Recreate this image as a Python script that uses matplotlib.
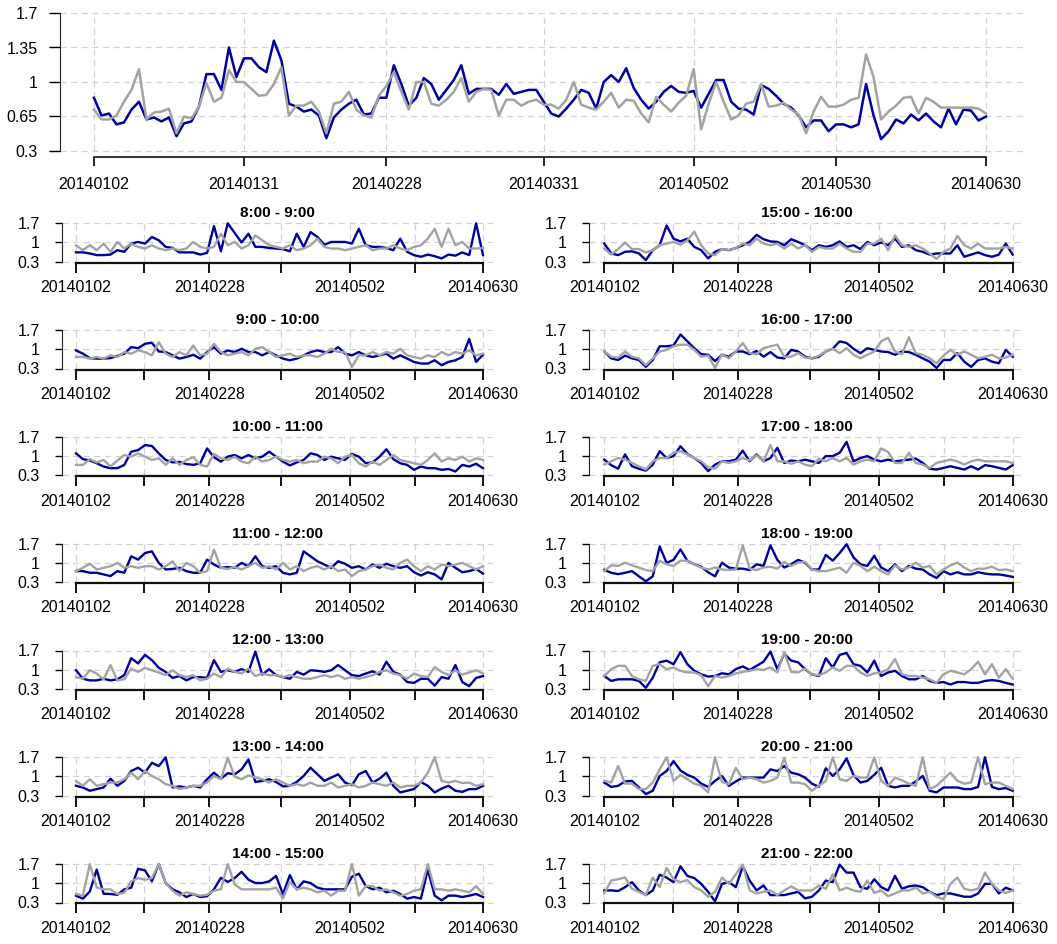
import numpy as np
import matplotlib
matplotlib.use("Agg")
import matplotlib.pyplot as plt

plt.rcParams['font.family'] = ['Liberation Sans', 'DejaVu Sans']

# ---- data -------------------------------------------------------------
tick_pos = [0, 20, 39, 60, 80, 99, 119]
tick_lab = ['20140102', '20140131', '20140228', '20140331', '20140502', '20140530', '20140630']
small_lab = ['20140102', '', '20140228', '', '20140502', '', '20140630']

# daily ratio, whole day
day_blue = [0.84, 0.66, 0.68, 0.57, 0.59, 0.72, 0.80, 0.62, 0.64, 0.60,
            0.64, 0.45, 0.58, 0.60, 0.75, 1.08, 1.08, 0.92, 1.35, 1.05,
            1.24, 1.24, 1.15, 1.10, 1.42, 1.22, 0.78, 0.75, 0.70, 0.72,
            0.66, 0.43, 0.64, 0.72, 0.78, 0.82, 0.67, 0.68, 0.84, 0.84,
            1.17, 0.98, 0.76, 0.84, 1.04, 0.98, 0.82, 0.92, 1.02, 1.17,
            0.88, 0.93, 0.93, 0.93, 0.87, 0.98, 0.88, 0.90, 0.92, 0.92,
            0.80, 0.68, 0.65, 0.73, 0.82, 0.92, 0.89, 0.73, 1.00, 1.07,
            1.00, 1.14, 0.94, 0.82, 0.73, 0.80, 0.90, 0.96, 0.90, 0.89,
            0.91, 0.74, 0.88, 1.02, 1.02, 0.80, 0.73, 0.72, 0.67, 0.97,
            0.93, 0.86, 0.78, 0.74, 0.66, 0.54, 0.61, 0.61, 0.50, 0.57,
            0.57, 0.54, 0.57, 0.98, 0.66, 0.42, 0.50, 0.62, 0.58, 0.67,
            0.61, 0.68, 0.60, 0.54, 0.73, 0.57, 0.72, 0.71, 0.61, 0.65]
day_gray = [0.72, 0.62, 0.62, 0.66, 0.80, 0.92, 1.13, 0.62, 0.69, 0.70,
            0.73, 0.48, 0.65, 0.63, 0.75, 0.99, 0.80, 0.84, 1.12, 1.00,
            1.00, 0.93, 0.86, 0.87, 0.98, 1.15, 0.66, 0.76, 0.76, 0.80,
            0.70, 0.48, 0.78, 0.80, 0.90, 0.72, 0.66, 0.64, 0.86, 0.96,
            1.10, 0.90, 0.72, 1.00, 1.00, 0.78, 0.76, 0.82, 0.90, 1.04,
            0.80, 0.90, 0.93, 0.92, 0.66, 0.82, 0.82, 0.76, 0.80, 0.82,
            0.77, 0.77, 0.73, 0.82, 1.00, 0.77, 0.74, 0.72, 0.80, 0.89,
            0.74, 0.82, 0.81, 0.68, 0.59, 0.85, 0.77, 0.70, 0.79, 0.86,
            1.13, 0.52, 0.78, 1.00, 0.80, 0.62, 0.66, 0.78, 0.80, 0.98,
            0.75, 0.76, 0.79, 0.72, 0.67, 0.48, 0.70, 0.85, 0.75, 0.75,
            0.77, 0.82, 0.84, 1.28, 1.05, 0.62, 0.70, 0.76, 0.84, 0.85,
            0.68, 0.84, 0.80, 0.74, 0.74, 0.74, 0.74, 0.74, 0.73, 0.68]

# hourly ratio (every second trading day)
b08 = [0.64, 0.64, 0.6, 0.54, 0.54, 0.56, 0.72, 0.66, 0.96, 1.02, 0.96, 1.2, 1.08, 0.84, 0.8,
       0.64, 0.64, 0.64, 0.56, 0.62, 1.6, 0.68, 1.7, 1.35, 1.0, 1.32, 0.84, 0.84, 0.8, 0.78,
       0.76, 0.68, 1.32, 0.84, 1.38, 1.2, 0.92, 1.02, 1.02, 1.02, 0.96, 1.5, 0.9, 0.84, 0.84,
       0.8, 0.72, 1.14, 0.66, 0.54, 0.48, 0.56, 0.5, 0.42, 0.56, 0.52, 0.64, 0.54, 1.7, 0.54]
g08 = [0.9, 0.72, 0.9, 0.72, 0.96, 0.66, 1.02, 0.78, 0.96, 0.84, 0.78, 0.9, 0.78, 0.72, 0.78,
       0.72, 0.78, 1.02, 0.84, 0.78, 0.84, 1.32, 0.9, 1.02, 0.78, 0.9, 1.26, 1.08, 0.9, 0.84,
       0.78, 0.9, 0.72, 0.78, 0.9, 1.14, 0.84, 0.78, 0.78, 0.72, 0.78, 0.84, 0.9, 0.72, 0.78,
       0.78, 0.9, 0.78, 0.72, 0.84, 0.9, 1.14, 1.5, 0.84, 1.5, 0.9, 1.02, 0.78, 0.78, 0.8]

b09 = [0.96, 0.84, 0.68, 0.66, 0.66, 0.68, 0.76, 0.84, 1.08, 1.04, 1.2, 1.24, 0.92, 0.9, 0.78,
       0.66, 0.72, 0.8, 0.66, 0.9, 1.08, 0.84, 0.96, 0.9, 1.02, 0.9, 0.9, 0.78, 0.9, 0.78,
       0.66, 0.6, 0.66, 0.78, 0.9, 0.96, 0.9, 0.9, 1.08, 0.84, 0.78, 0.9, 0.78, 0.72, 0.78,
       0.84, 0.66, 0.78, 0.66, 0.54, 0.48, 0.48, 0.6, 0.42, 0.54, 0.6, 0.72, 1.38, 0.54, 0.8]
g09 = [0.72, 0.72, 0.66, 0.72, 0.66, 0.78, 0.72, 0.9, 0.84, 0.96, 0.9, 0.78, 1.26, 0.84, 0.72,
       0.9, 0.78, 1.14, 0.78, 0.84, 1.2, 0.9, 0.78, 0.84, 0.9, 0.78, 1.02, 1.08, 0.9, 0.72,
       0.78, 0.84, 0.72, 0.78, 0.78, 0.72, 0.84, 1.02, 0.9, 0.9, 0.36, 0.78, 0.78, 0.9, 0.78,
       0.9, 0.84, 1.02, 0.78, 0.72, 0.66, 0.78, 0.72, 0.9, 0.78, 0.9, 0.84, 0.96, 0.78, 0.84]

b10 = [1.1, 0.89, 0.84, 0.74, 0.62, 0.56, 0.56, 0.68, 1.16, 1.22, 1.4, 1.37, 1.1, 0.86, 0.77,
       0.79, 0.71, 0.68, 0.74, 1.28, 0.96, 0.8, 0.98, 1.04, 0.92, 1.04, 0.92, 0.98, 1.16, 0.98,
       0.8, 0.66, 0.77, 0.86, 1.1, 1.04, 0.86, 0.98, 0.92, 0.86, 1.08, 0.98, 0.74, 0.77, 0.98,
       1.25, 0.89, 0.74, 0.68, 0.5, 0.62, 0.56, 0.56, 0.5, 0.53, 0.44, 0.68, 0.62, 0.72, 0.56]
g10 = [0.68, 0.68, 0.89, 0.77, 0.86, 0.62, 0.84, 1.04, 0.98, 1.1, 0.98, 0.86, 0.92, 0.68, 0.92,
       0.68, 0.86, 0.96, 0.68, 0.62, 1.08, 0.92, 0.86, 0.98, 0.8, 0.74, 0.98, 0.8, 0.86, 0.98,
       0.86, 0.8, 0.86, 0.74, 0.8, 0.8, 0.98, 0.92, 0.74, 0.98, 1.04, 0.74, 0.62, 0.8, 0.68,
       0.86, 1.04, 0.86, 0.8, 0.74, 0.68, 0.86, 1.1, 0.8, 0.92, 0.86, 0.98, 0.8, 0.92, 0.86]

b11 = [0.7, 0.7, 0.64, 0.64, 0.58, 0.52, 0.7, 0.64, 1.24, 1.12, 1.36, 1.42, 1.0, 0.76, 0.78,
       0.82, 0.7, 0.64, 0.64, 1.12, 0.94, 0.82, 0.85, 0.82, 1.0, 0.88, 1.24, 0.88, 0.82, 0.88,
       0.64, 0.58, 0.64, 1.42, 1.24, 1.06, 0.94, 0.82, 1.06, 0.97, 0.82, 0.88, 0.76, 0.94, 0.82,
       0.97, 0.88, 0.82, 0.88, 0.66, 0.54, 0.66, 0.58, 0.4, 1.0, 0.82, 0.66, 0.7, 0.78, 0.61]
g11 = [0.7, 0.82, 0.97, 0.76, 0.82, 0.88, 1.0, 0.82, 0.88, 0.82, 0.88, 0.88, 0.76, 0.88, 1.06,
       0.7, 1.0, 0.88, 0.64, 0.7, 1.48, 0.82, 0.78, 0.85, 0.76, 0.88, 1.0, 0.82, 0.88, 0.76,
       1.0, 0.76, 0.88, 0.7, 0.82, 0.88, 0.76, 0.88, 0.7, 0.76, 0.52, 0.7, 0.76, 0.88, 0.94,
       0.82, 0.76, 1.0, 1.12, 0.88, 0.7, 0.88, 0.76, 0.94, 0.88, 0.94, 1.0, 0.88, 0.76, 0.88]

b12 = [0.98, 0.67, 0.61, 0.61, 0.67, 0.61, 0.65, 0.8, 1.42, 1.23, 1.54, 1.35, 1.07, 0.92, 0.7,
       0.77, 0.61, 0.73, 0.73, 0.7, 1.35, 0.92, 0.98, 0.92, 1.02, 0.92, 1.66, 0.82, 1.02, 0.8,
       0.73, 0.67, 0.92, 0.82, 0.98, 0.96, 0.92, 0.98, 1.17, 0.98, 0.8, 0.77, 0.86, 0.94, 0.82,
       1.29, 0.92, 0.82, 0.55, 0.52, 0.67, 0.67, 0.42, 0.73, 0.67, 1.17, 0.55, 0.4, 0.7, 0.77]
g12 = [0.73, 0.67, 0.98, 0.86, 0.65, 1.17, 0.61, 0.65, 1.04, 0.92, 1.07, 0.98, 0.9, 0.8, 0.98,
       0.8, 0.73, 0.8, 0.61, 0.67, 0.86, 0.73, 1.04, 0.92, 0.86, 1.04, 0.77, 0.86, 0.8, 0.8,
       0.73, 0.8, 0.73, 0.67, 0.67, 0.73, 0.8, 0.73, 0.8, 0.67, 0.73, 0.67, 0.73, 0.8, 0.92,
       0.98, 0.86, 0.8, 0.67, 0.86, 0.77, 0.73, 1.1, 0.92, 0.8, 0.98, 0.82, 0.9, 0.98, 0.86]

b13 = [0.66, 0.6, 0.48, 0.54, 0.6, 0.92, 0.66, 0.84, 1.2, 1.32, 1.14, 1.5, 1.38, 1.7, 0.6,
       0.64, 0.6, 0.66, 0.6, 0.9, 1.14, 0.92, 1.12, 1.08, 1.26, 1.62, 0.8, 0.84, 0.9, 0.8,
       0.64, 0.66, 0.8, 1.02, 1.32, 1.08, 0.84, 0.96, 1.08, 0.78, 0.68, 1.08, 1.2, 0.78, 0.92,
       1.14, 0.66, 0.42, 0.48, 0.54, 0.8, 0.66, 0.42, 0.56, 0.66, 0.48, 0.44, 0.54, 0.54, 0.66]
g13 = [0.84, 0.66, 0.9, 0.66, 0.72, 0.78, 0.78, 0.9, 1.14, 0.9, 1.2, 1.02, 0.9, 0.72, 0.66,
       0.54, 0.6, 0.66, 0.66, 0.78, 1.02, 0.9, 1.68, 1.0, 0.9, 1.04, 0.96, 0.9, 0.78, 0.9,
       0.78, 0.66, 0.72, 0.66, 0.78, 0.66, 0.66, 0.78, 0.6, 0.66, 0.72, 0.6, 0.66, 0.78, 0.72,
       0.66, 0.78, 0.6, 0.66, 0.66, 0.78, 1.14, 1.7, 0.84, 0.78, 0.84, 0.76, 0.78, 0.66, 0.72]

b14 = [0.55, 0.44, 0.7, 1.5, 0.62, 0.61, 0.58, 0.78, 0.84, 1.53, 1.47, 1.07, 1.7, 1.01, 0.78,
       0.67, 0.5, 0.61, 0.5, 0.53, 0.78, 1.2, 1.05, 1.19, 1.42, 1.13, 1.01, 1.01, 1.07, 1.27,
       0.6, 1.3, 0.78, 1.07, 1.01, 0.84, 0.78, 0.78, 0.78, 0.78, 1.24, 1.35, 0.9, 0.78, 0.84,
       0.67, 0.73, 0.61, 0.44, 0.5, 0.44, 1.5, 0.55, 0.38, 0.55, 0.55, 0.5, 0.55, 0.61, 0.5]
g14 = [0.61, 0.55, 1.7, 0.85, 0.78, 0.78, 0.61, 0.65, 1.07, 1.19, 1.13, 1.19, 1.7, 1.01, 0.73,
       0.55, 0.67, 0.61, 0.55, 0.58, 0.73, 0.78, 1.7, 0.96, 0.78, 0.78, 0.78, 0.78, 0.78, 0.84,
       0.45, 1.05, 0.78, 0.84, 0.78, 0.67, 0.73, 0.55, 0.73, 0.73, 1.7, 0.55, 0.9, 0.9, 0.73,
       0.78, 0.67, 0.55, 0.61, 0.73, 0.78, 1.7, 0.78, 0.78, 0.73, 0.78, 0.73, 0.67, 0.9, 0.61]

b15 = [0.96, 0.6, 0.54, 0.66, 0.68, 0.6, 0.36, 0.72, 0.9, 1.62, 1.14, 1.04, 1.14, 0.84, 0.72,
       0.42, 0.66, 0.76, 0.72, 0.8, 0.9, 1.02, 1.28, 1.12, 1.04, 1.02, 0.9, 1.12, 1.02, 0.9,
       0.72, 0.9, 0.84, 0.9, 1.04, 0.84, 0.9, 0.76, 1.02, 0.9, 1.0, 0.9, 1.14, 0.84, 0.9,
       0.72, 0.66, 0.56, 0.6, 0.6, 0.6, 0.9, 0.48, 0.56, 0.64, 0.54, 0.48, 0.56, 0.96, 0.56]
g15 = [0.78, 0.56, 0.76, 1.0, 0.76, 0.76, 0.64, 0.72, 0.9, 0.96, 1.02, 0.92, 1.08, 1.4, 0.9,
       0.6, 0.54, 0.76, 0.72, 0.8, 0.96, 0.9, 1.14, 0.96, 0.9, 0.96, 0.78, 0.96, 0.78, 0.9,
       0.66, 0.84, 0.78, 0.78, 0.96, 0.78, 0.66, 0.66, 0.96, 0.96, 1.14, 0.72, 1.26, 0.9, 0.84,
       0.9, 0.78, 0.6, 0.4, 0.66, 0.78, 1.24, 0.9, 0.78, 0.96, 0.78, 0.78, 0.78, 0.84, 0.78]

b16 = [0.92, 0.67, 0.61, 0.77, 0.67, 0.61, 0.36, 0.61, 1.11, 1.11, 1.14, 1.54, 1.29, 1.04, 0.82,
       0.8, 0.57, 0.8, 0.73, 0.92, 0.92, 0.82, 0.94, 0.73, 0.9, 0.7, 0.67, 0.98, 0.92, 0.73,
       0.67, 0.73, 0.92, 1.02, 1.29, 1.23, 1.02, 0.86, 1.04, 0.98, 0.92, 0.9, 0.8, 0.92, 0.9,
       0.8, 0.67, 0.55, 0.32, 0.61, 0.61, 0.86, 0.55, 0.36, 0.61, 0.67, 0.55, 0.49, 0.98, 0.73]
g16 = [0.92, 0.73, 0.7, 0.92, 0.73, 0.67, 0.42, 0.67, 0.92, 0.98, 1.11, 1.17, 1.17, 0.98, 0.73,
       0.77, 0.32, 0.82, 0.67, 0.92, 1.23, 0.86, 0.82, 1.04, 1.11, 1.17, 0.73, 0.73, 0.86, 0.7,
       0.67, 0.77, 0.92, 1.02, 0.86, 1.04, 0.8, 0.67, 0.8, 0.92, 1.29, 1.42, 0.92, 0.82, 1.44,
       0.86, 0.8, 0.67, 0.49, 0.77, 0.98, 0.8, 0.92, 0.8, 0.67, 0.73, 0.8, 0.67, 0.7, 0.8]

b17 = [0.87, 0.67, 0.54, 1.06, 0.63, 0.54, 0.47, 0.69, 1.18, 0.93, 1.0, 1.36, 1.08, 0.93, 0.75,
       0.45, 0.69, 0.81, 0.81, 0.87, 1.2, 0.81, 1.06, 0.81, 0.93, 1.3, 0.75, 0.84, 0.81, 0.87,
       0.81, 0.75, 1.0, 1.0, 1.12, 1.52, 0.81, 0.93, 1.0, 0.87, 0.81, 0.87, 0.81, 0.84, 0.87,
       0.91, 0.75, 0.54, 0.51, 0.57, 0.63, 0.57, 0.51, 0.63, 0.51, 0.67, 0.63, 0.57, 0.51, 0.67]
g17 = [0.69, 0.81, 0.93, 0.87, 0.75, 0.63, 0.51, 0.81, 0.93, 0.93, 1.12, 1.18, 1.06, 0.93, 0.81,
       0.59, 0.54, 0.81, 0.75, 0.81, 0.93, 0.84, 1.03, 0.81, 1.4, 0.81, 0.81, 0.72, 0.81, 0.69,
       0.63, 0.91, 0.81, 0.93, 0.81, 0.93, 0.69, 0.81, 0.87, 0.81, 1.28, 1.15, 0.75, 0.75, 1.12,
       0.75, 0.69, 0.57, 0.75, 0.81, 0.87, 0.81, 0.69, 0.81, 0.87, 0.81, 0.81, 0.81, 0.81, 0.75]

b18 = [0.74, 0.64, 0.59, 0.64, 0.7, 0.51, 0.33, 0.51, 1.6, 1.0, 1.11, 1.49, 1.08, 0.95, 0.86,
       0.66, 0.51, 1.01, 0.83, 0.79, 0.79, 0.74, 0.95, 0.89, 1.64, 1.11, 0.83, 0.95, 1.11, 1.01,
       0.76, 0.76, 1.29, 1.08, 1.36, 1.68, 1.2, 0.95, 0.89, 1.26, 0.83, 0.7, 0.95, 0.7, 0.89,
       0.79, 0.76, 0.58, 0.45, 0.7, 0.58, 0.66, 0.58, 0.58, 0.66, 0.61, 0.58, 0.58, 0.54, 0.49]
g18 = [0.7, 0.91, 0.89, 1.01, 0.91, 0.83, 0.74, 0.7, 1.08, 0.95, 0.89, 1.08, 1.08, 0.95, 0.83,
       0.76, 0.83, 0.76, 0.74, 0.76, 1.64, 0.79, 0.74, 0.83, 0.86, 0.79, 1.04, 0.89, 1.01, 1.04,
       0.76, 0.7, 0.7, 0.76, 0.83, 0.64, 1.01, 0.89, 0.7, 0.86, 0.7, 0.58, 0.91, 0.76, 0.83,
       1.01, 0.83, 0.89, 0.58, 0.76, 0.91, 1.01, 0.83, 0.7, 0.79, 0.79, 0.86, 0.74, 0.76, 0.7]

b19 = [0.77, 0.59, 0.65, 0.65, 0.65, 0.59, 0.34, 0.71, 1.27, 1.33, 1.2, 1.64, 1.2, 0.96, 0.83,
       0.75, 0.77, 0.87, 0.83, 1.02, 1.12, 0.99, 1.14, 1.29, 1.66, 1.02, 1.58, 1.33, 1.27, 1.02,
       0.83, 0.77, 1.42, 1.08, 1.54, 1.61, 1.2, 1.14, 0.9, 1.33, 0.77, 0.9, 0.96, 0.77, 0.65,
       0.65, 0.77, 0.59, 0.52, 0.55, 0.46, 0.55, 0.55, 0.52, 0.52, 0.59, 0.62, 0.59, 0.52, 0.46]
g19 = [0.77, 1.02, 1.14, 1.14, 0.77, 0.65, 0.59, 1.14, 1.2, 1.02, 1.08, 0.96, 0.9, 0.9, 0.8,
       0.4, 0.77, 0.71, 0.77, 0.87, 0.92, 0.96, 1.02, 0.99, 1.08, 0.9, 1.64, 0.92, 0.9, 1.04,
       0.83, 0.8, 0.9, 1.08, 0.96, 1.14, 1.14, 0.9, 0.77, 0.87, 0.9, 1.02, 1.39, 0.83, 0.77,
       0.77, 0.71, 0.65, 0.52, 0.83, 0.96, 0.9, 0.83, 1.02, 1.29, 0.83, 1.2, 0.71, 1.02, 0.67]

b20 = [0.78, 0.62, 0.66, 0.82, 0.84, 0.6, 0.36, 0.48, 1.02, 1.2, 1.56, 1.22, 1.06, 0.96, 0.74,
       0.62, 0.84, 1.02, 0.66, 0.82, 0.96, 0.96, 0.96, 0.96, 1.26, 1.2, 1.38, 1.14, 1.08, 0.96,
       0.74, 0.62, 1.3, 1.02, 1.26, 1.66, 1.05, 0.78, 0.84, 1.06, 1.32, 0.66, 0.6, 0.66, 0.66,
       0.82, 1.02, 0.48, 0.42, 0.6, 0.6, 0.6, 0.54, 0.54, 0.62, 1.7, 0.62, 0.54, 0.58, 0.48]
g20 = [0.84, 0.78, 1.38, 0.74, 0.74, 0.54, 0.54, 0.78, 1.26, 1.7, 0.84, 1.06, 0.9, 0.74, 0.66,
       0.42, 1.7, 0.8, 0.72, 1.32, 0.9, 0.96, 0.9, 0.78, 0.84, 0.96, 1.68, 0.78, 0.78, 0.72,
       0.48, 0.66, 0.84, 1.7, 0.9, 0.84, 1.02, 0.96, 0.96, 1.7, 0.84, 0.66, 0.96, 0.86, 0.74,
       0.66, 1.7, 0.54, 0.66, 0.9, 1.14, 0.84, 0.74, 0.78, 1.7, 0.72, 0.78, 0.78, 0.66, 0.54]

b21 = [0.74, 0.74, 0.72, 0.86, 1.04, 0.74, 0.57, 0.74, 1.31, 1.21, 1.04, 1.62, 1.27, 1.19, 0.98,
       0.69, 0.34, 0.98, 1.04, 0.86, 1.62, 1.1, 0.74, 0.92, 0.57, 0.57, 0.57, 0.63, 0.69, 0.45,
       0.51, 0.74, 1.1, 1.04, 1.68, 1.39, 1.39, 0.86, 0.8, 1.15, 0.86, 0.74, 1.27, 0.8, 0.89,
       0.92, 0.86, 0.69, 0.57, 0.63, 0.63, 0.57, 0.51, 0.51, 0.63, 0.98, 0.98, 0.63, 0.84, 0.74]
g21 = [0.63, 1.1, 1.15, 1.21, 0.8, 0.69, 0.57, 1.21, 0.86, 1.56, 1.15, 1.04, 1.12, 0.86, 0.74,
       0.51, 0.69, 1.21, 0.98, 1.33, 1.68, 0.74, 0.63, 0.69, 0.74, 0.57, 0.74, 0.89, 0.74, 0.74,
       0.74, 0.92, 0.8, 1.33, 0.74, 0.84, 0.74, 0.69, 1.1, 0.65, 0.74, 0.53, 0.63, 0.74, 0.74,
       0.84, 0.63, 0.69, 0.51, 0.42, 0.98, 1.21, 0.8, 0.74, 0.8, 1.39, 0.98, 0.74, 0.65, 0.74]

left_titles = ['8:00 - 9:00', '9:00 - 10:00', '10:00 - 11:00', '11:00 - 12:00',
               '12:00 - 13:00', '13:00 - 14:00', '14:00 - 15:00']
right_titles = ['15:00 - 16:00', '16:00 - 17:00', '17:00 - 18:00', '18:00 - 19:00',
                '19:00 - 20:00', '20:00 - 21:00', '21:00 - 22:00']
left_series = [(b08, g08), (b09, g09), (b10, g10), (b11, g11), (b12, g12), (b13, g13), (b14, g14)]
right_series = [(b15, g15), (b16, g16), (b17, g17), (b18, g18), (b19, g19), (b20, g20), (b21, g21)]

BLUE = '#0000A0'
GRAY = '#A3A3A3'
GRID = '#D3D3D3'
W, H = 1057, 944
N = len(day_blue)

fig = plt.figure(figsize=(W / 100, H / 100), dpi=100)


def panel(l, r, t, b, x0, x1, y17, y03, axis_y, yt, ylab, xlab, small):
    ax = fig.add_axes([l / W, 1 - b / H, (r - l) / W, (b - t) / H])
    ppx = (x1 - x0) / (N - 1)
    ax.set_xlim((l - x0) / ppx, (N - 1) + (r - x1) / ppx)
    ppy = (y03 - y17) / 1.4
    ax.set_ylim(0.3 - (b - y03) / ppy, 1.7 + (y17 - t) / ppy)
    for s in ['top', 'right']:
        ax.spines[s].set_visible(False)
    ax.spines['left'].set_bounds(0.3, 1.7)
    ax.spines['left'].set_color('#222222')
    ax.spines['bottom'].set_position(('data', 0.3 - (axis_y - y03) / ppy))
    ax.spines['bottom'].set_bounds(0, N - 1)
    ax.spines['bottom'].set_color('#111111')
    ax.spines['bottom'].set_linewidth(1.6 if small else 1.2)
    for yv in yt:
        ax.axhline(yv, color=GRID, lw=0.9, ls=(0, (5, 3.5)), zorder=0)
    ax.vlines(tick_pos, 0.3, 1.7, color=GRID, lw=0.9, ls=(0, (5, 3.5)), zorder=0)
    ax.set_yticks(yt, ylab)
    ax.set_xticks(tick_pos, xlab)
    if small:
        ax.tick_params(axis='y', length=5, width=1, pad=11, labelsize=11.5)
        ax.tick_params(axis='x', length=7.5, width=1.3, pad=5, labelsize=11.5)
    else:
        ax.tick_params(axis='y', length=8, width=1, pad=8, labelsize=11.5)
        ax.tick_params(axis='x', length=6.5, width=1.2, pad=8, labelsize=11.5)
    return ax


# top panel: whole day
ax = panel(60, 1023, 10, 159, 94, 986, 13, 151, 157,
           [0.3, 0.65, 1, 1.35, 1.7], ['0.3', '0.65', '1', '1.35', '1.7'], tick_lab, False)
x = np.arange(N)
ax.plot(x, day_blue, color=BLUE, lw=1.8)
ax.plot(x, day_gray, color=GRAY, lw=1.8)

# hourly panels
cols = [(62, 493, 76, 483, left_titles, left_series),
        (589, 1024, 604.3, 1012.7, right_titles, right_series)]
for l, r, x0, x1, titles, series in cols:
    for i, (title, (bl, gr)) in enumerate(zip(titles, series)):
        y17 = 223.3 + 106.8 * i
        y03 = y17 + 38.4
        ax = panel(l, r, y17 - 3, y03 + 2, x0, x1, y17, y03, y03 + 1,
                   [0.3, 1, 1.7], ['0.3', '1', '1.7'], small_lab, True)
        xs = np.linspace(0, N - 1, len(bl))
        ax.plot(xs, bl, color=BLUE, lw=1.7)
        ax.plot(xs, gr, color=GRAY, lw=1.7)
        fig.text((l + r) / 2 / W, 1 - (y17 - 10) / H, title, ha='center', va='center',
                 fontsize=11, fontweight='bold')

fig.savefig('out.png', dpi=100)
